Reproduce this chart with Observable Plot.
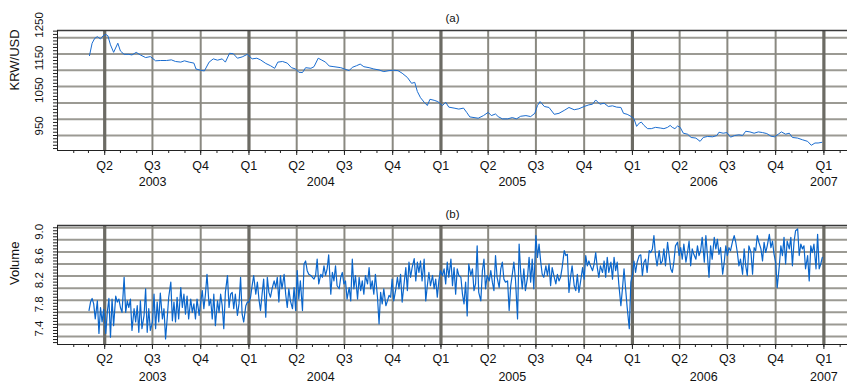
<!DOCTYPE html>
<html><head><meta charset="utf-8">
<script src="https://cdn.jsdelivr.net/npm/d3@7"></script>
<script src="https://cdn.jsdelivr.net/npm/@observablehq/plot@0.6"></script>
<style>
html,body{margin:0;padding:0;background:#fff;}
#chart svg{display:block;}
</style>
</head><body><div id="chart"></div>
<script>
// ---- Data (day offsets from 2003-01-01) ----
const baseDate = "2003-01-01";

const rateDay = [61,66,71,76,82,87,92,96,101,107,115,120,127,136,142,150,158,168,177,187,196,208,217,225,235,242,251,260,264,273,280,289,297,305,314,320,328,335,343,352,362,371,380,387,397,406,414,420,429,438,446,454,460,467,473,483,489,497,503,511,518,527,540,
547,556,562,570,577,584,594,603,613,622,632,641,649,657,667,675,681,686,692,699,705,710,718,725,734,740,746,756,765,774,780,786,794,802,812,821,827,835,840,848,858,867,875,883,893,902,910,915,920,928,937,947,956,966,975,985,994,1004,1013,1020,1026,1034,
1042,1050,1058,1066,1074,1079,1086,1094,1099,1104,1109,1113,1118,1125,1132,1140,1149,1156,1163,1168,1172,1177,1182,1187,1193,1201,1208,1217,1225,1231,1239,1249,1257,1261,1269,1276,1283,1291,1299,1306,1312,1320,1328,1336,1344,1352,1360,1367,1374,1380,1388,1395,1401,1411,1420,1430,1437,1444,1450,1457];
const rateValue = [1195,1233,1248,1253,1246,1256,1260,1256,1228,1205,1233,1209,1199,1199,1197,1205,1197,1189,1192,1179,1180,1180,1182,1177,1175,1179,1175,1172,1154,1150,1148,1175,1185,1181,1185,1175,1202,1201,1187,1191,1199,1185,1187,1182,1171,1164,1156,1175,1177,1172,1158,1154,1144,1143,1158,1156,1161,1187,1182,1175,1163,1161,1158,
1154,1149,1159,1164,1169,1161,1158,1154,1151,1146,1149,1150,1149,1141,1128,1110,1113,1085,1066,1052,1042,1061,1058,1054,1042,1052,1037,1034,1031,1034,1021,1007,1005,1003,1011,1021,1011,1016,1008,1001,1001,1005,1001,1009,1011,1008,1018,1042,1054,1039,1036,1015,1018,1027,1036,1029,1032,1039,1044,1046,1059,1046,
1049,1039,1041,1037,1036,1018,1015,1008,1001,978,988,991,981,971,971,975,973,971,975,981,975,971,979,975,957,954,944,942,932,944,947,946,950,960,957,959,945,950,952,950,963,961,957,961,959,956,948,946,954,961,954,957,944,942,937,932,920,927,927,929];

const volumeDay = [60,63,66,69,72,76,79,82,85,88,92,95,98,101,104,107,111,114,117,120,123,127,130,133,136,139,142,146,149,152,155,158,161,165,168,171,174,177,181,184,187,190,193,196,200,203,206,209,212,216,219,222,225,228,231,235,238,241,244,247,250,254,257,260,263,266,270,273,276,279,282,285,289,292,295,298,301,305,308,311,314,317,320,324,327,330,333,336,339,343,346,349,352,355,359,362,365,368,371,374,378,381,384,387,390,393,397,400,403,
406,409,413,416,419,422,425,428,432,435,438,441,444,448,451,454,457,460,463,467,470,473,476,479,483,486,489,492,495,498,502,505,508,511,514,517,521,524,527,530,533,537,540,543,546,549,552,556,559,562,565,568,572,575,578,581,584,587,591,594,597,600,603,606,610,613,616,619,622,626,629,632,635,638,641,645,648,651,654,657,661,664,667,670,673,676,680,683,686,689,692,695,699,702,705,708,711,715,718,721,724,727,730,734,737,740,743,746,750,753,756,759,762,765,
769,772,775,778,781,784,788,791,794,797,800,803,807,810,813,816,819,823,826,829,832,835,838,842,845,848,851,854,858,861,864,867,870,873,877,880,883,886,889,892,896,899,902,905,908,912,915,918,921,924,927,931,934,937,940,943,947,950,953,956,959,962,966,969,972,975,978,981,985,988,991,994,997,1001,1004,1007,1010,1013,1016,1020,1023,1026,1029,1032,1035,1039,1042,1045,1048,1051,1055,1058,1061,1064,1067,1070,1074,1077,1080,1083,1086,1090,1093,1096,1099,1102,1105,1109,1112,1115,1118,1121,1124,1128,
1131,1134,1137,1140,1143,1147,1150,1153,1156,1159,1163,1166,1169,1172,1175,1178,1182,1185,1188,1191,1194,1198,1201,1204,1207,1210,1213,1217,1220,1223,1226,1229,1233,1236,1239,1242,1245,1248,1252,1255,1258,1261,1264,1268,1271,1274,1277,1280,1283,1287,1290,1293,1296,1299,1302,1306,1309,1312,1315,1318,1322,1325,1328,1331,1334,1337,1341,1344,1347,1350,1353,1357,1360,1363,1366,1369,1372,1376,1379,1382,1385,1388,1391,1395,1398,1401,1404,1407,1411,1414,1417,1420,1423,1426,1430,1433,1436,1439,1442,1446,1449,1452,1455,1458];
const volumeValue = [7.83,7.97,8.03,7.94,7.69,7.99,7.45,7.88,7.64,7.85,7.45,7.81,8.03,7.39,8.02,7.58,8.07,7.97,8.02,7.88,7.80,8.38,7.80,7.99,7.88,8.02,7.50,7.86,7.64,7.91,7.47,7.99,7.53,7.75,8.19,7.47,7.86,7.50,7.64,8.10,7.53,7.97,7.64,8.12,7.69,7.86,7.36,7.69,8.05,8.30,7.66,7.97,7.64,8.05,7.69,8.21,7.88,8.10,7.77,8.07,7.69,8.02,7.80,7.94,7.69,8.02,7.75,7.97,8.16,7.86,8.10,8.43,7.91,8.02,7.69,8.10,7.58,7.99,7.80,8.10,7.91,7.53,8.13,8.41,7.88,8.10,8.13,7.86,8.10,7.75,7.94,8.38,7.77,7.64,7.91,7.97,7.97,8.05,8.24,8.41,8.10,8.30,8.02,7.83,8.10,8.35,7.72,8.38,8.13,
8.05,8.19,8.32,8.21,8.38,7.97,8.41,8.19,8.43,8.10,7.88,8.19,7.99,7.86,8.21,7.83,8.49,8.02,8.32,7.83,8.60,8.65,8.49,8.43,8.41,8.38,8.35,8.41,8.68,8.27,8.43,8.38,8.57,8.41,8.52,8.75,8.10,8.46,8.32,8.57,8.24,8.19,8.38,8.46,8.27,8.32,8.02,8.21,7.99,8.68,8.19,8.41,8.02,8.38,8.16,8.32,8.10,8.41,8.27,8.54,8.19,8.32,8.10,8.43,8.05,7.61,8.13,7.94,8.19,7.91,7.99,8.08,8.05,8.35,7.99,8.19,8.38,8.19,8.43,7.97,8.30,8.54,8.16,8.63,8.38,8.54,8.69,8.32,8.63,8.46,8.65,8.32,8.68,7.99,8.24,8.46,8.24,8.41,8.19,8.35,8.05,8.32,8.49,8.41,8.52,8.27,8.63,8.38,8.68,8.24,8.54,8.10,8.52,8.41,
8.38,8.10,7.94,8.30,7.74,8.60,8.41,8.52,8.16,8.27,8.90,8.13,7.99,8.49,8.68,8.19,8.41,8.32,8.49,8.30,8.16,8.74,8.38,8.21,8.52,8.63,8.35,8.30,8.32,7.83,8.24,8.43,8.63,8.35,7.69,8.93,8.46,8.19,8.52,8.16,8.38,8.71,8.30,8.68,8.19,9.07,8.71,8.93,8.65,8.43,8.38,8.57,8.41,8.60,8.24,8.54,8.38,8.27,8.43,8.32,8.38,8.54,8.82,8.74,8.76,8.13,8.38,8.57,8.24,8.16,8.43,8.13,8.30,8.54,8.35,8.74,8.57,8.65,8.57,8.49,8.60,8.79,8.54,8.38,8.57,8.46,8.65,8.38,8.71,8.46,8.63,8.35,8.71,8.49,8.63,8.27,7.91,8.19,8.52,8.19,7.88,7.53,8.30,8.41,8.65,8.46,8.63,8.74,8.75,8.41,8.63,8.68,8.46,8.82,
8.79,8.85,9.07,8.74,8.57,8.82,8.60,8.65,8.85,8.57,8.96,8.74,8.52,8.46,8.63,8.90,8.96,8.74,8.87,8.68,8.93,8.63,8.79,8.98,8.57,8.85,8.76,8.68,8.90,8.74,8.82,9.04,8.63,9.07,8.74,8.38,8.90,8.68,9.04,8.85,9.01,8.76,8.87,8.43,8.63,8.90,8.74,8.87,8.82,8.98,9.07,8.96,8.79,8.57,8.68,8.43,8.85,8.57,8.41,8.90,8.79,8.43,8.87,8.82,9.07,8.96,8.85,8.65,8.96,8.79,8.90,9.09,8.87,8.98,8.76,8.63,8.21,8.57,8.90,8.74,9.04,8.60,8.98,8.85,9.04,8.57,8.96,9.15,9.18,8.74,8.93,8.85,8.90,8.52,8.74,8.32,8.90,8.79,8.93,8.52,9.09,8.52,8.60,8.71];

// ---- Axis / tick definitions ----
const quarterTicks = ["2003-04-01","2003-07-01","2003-10-01","2004-01-01","2004-04-01","2004-07-01","2004-10-01","2005-01-01","2005-04-01","2005-07-01","2005-10-01","2006-01-01","2006-04-01","2006-07-01","2006-10-01","2007-01-01"];
const quarterLabels = ["Q2","Q3","Q4","Q1","Q2","Q3","Q4","Q1","Q2","Q3","Q4","Q1","Q2","Q3","Q4","Q1"];
const thickLines = ["2003-04-01","2004-01-01","2005-01-01","2006-01-01","2007-01-01"];
const yearLabels = ["2003","2004","2005","2006","2007"];
const xStart = "2003-01-01", xEnd = "2007-02-15";

const rateGrid = [950,1000,1050,1100,1150,1200,1250];
const rateTickLabels = [950,1050,1150,1250];
const rateDomain = [904,1272];
const volumeGrid = [7.4,7.6,7.8,8.0,8.2,8.4,8.6,8.8,9.0,9.2];
const volumeTickLabels = [7.4,7.8,8.2,8.6,9.0];
const volumeDomain = [7.268,9.237];

// ---- Build ----
const base = new Date(baseDate);
const toDate = s => new Date(s);
const rateData = rateDay.map((d,i) => ({date: d3.utcDay.offset(base, d), value: rateValue[i]}));
const volumeData = volumeDay.map((d,i) => ({date: d3.utcDay.offset(base, d), value: volumeValue[i]}));
const qDates = quarterTicks.map(toDate);
const yearPos = yearLabels.map(y => new Date(d3.mean(qDates.filter(d => d.getUTCFullYear() === +y), d => +d)));
const xDomain = [toDate(xStart), toDate(xEnd)];
const months = d3.utcMonth.range(d3.utcDay.offset(xDomain[0],1), xDomain[1]);
const font = "'Liberation Sans', Arial, Helvetica, sans-serif";
const blank = () => "";

function panel(o) {
  return Plot.plot({
    width: 847, height: o.height,
    marginLeft: 57, marginRight: 0, marginTop: o.marginTop, marginBottom: o.marginBottom,
    style: {fontFamily: font, fontSize: "12px", background: "white", overflow: "visible", color: "#111"},
    x: {type: "utc", domain: xDomain, axis: null},
    y: {domain: o.yDomain, axis: null},
    marks: [
      Plot.ruleY(o.grid, {stroke: "#9b9a93", strokeWidth: 2}),
      Plot.ruleX(qDates, {stroke: "#8a8981", strokeWidth: 2}),
      Plot.ruleX(thickLines.map(toDate), {stroke: "#6c6b64", strokeWidth: 3.2}),
      Plot.lineY(o.data, {x: "date", y: "value", stroke: o.color, strokeWidth: o.lw}),
      Plot.ruleY([o.yDomain[1]], {stroke: "#3a3a3a", strokeWidth: 1.6}),
      Plot.ruleY([o.yDomain[0]], {stroke: "#222", strokeWidth: 1}),
      Plot.ruleX([xDomain[0]], {stroke: "#222", strokeWidth: 1}),
      Plot.axisY(o.minor, {tickSize: 4, tickFormat: blank, label: null, stroke: "#222"}),
      Plot.axisX(months, {tickSize: 3, tickFormat: blank, label: null, stroke: "#222"}),
      Plot.axisX(qDates, {tickSize: 5, tickFormat: blank, label: null, stroke: "#222"}),
      Plot.text(o.labels, {y: d => d, text: o.fmt, frameAnchor: "left", dx: -18, rotate: -90, fontSize: 11.5, fill: "#111"}),
      Plot.text(qDates, {x: d => d, text: (d, i) => quarterLabels[i], frameAnchor: "bottom", dy: o.qdy, fontSize: 12.5, fill: "#111"}),
      Plot.text(yearPos, {x: d => d, text: (d, i) => yearLabels[i], frameAnchor: "bottom", dy: o.ydy, fontSize: 12.5, fill: "#111"}),
      Plot.text([o.title], {frameAnchor: "top", dy: o.tdy, fontSize: 11.5, fill: "#111"}),
      Plot.text([o.yTitle], {frameAnchor: "left", dx: -43, rotate: -90, fontSize: 13, fill: "#111"})
    ]
  });
}

const chart = document.getElementById("chart");
chart.append(panel({
  height: 193, marginTop: 30, marginBottom: 43,
  yDomain: rateDomain, grid: rateGrid, minor: d3.range(910, 1271, 10),
  labels: rateTickLabels, fmt: d => String(d),
  data: rateData, color: "#1b6dd0", lw: 1,
  qdy: 19, ydy: 35, tdy: -17, title: "(a)", yTitle: "KRW/USD"
}));
chart.append(panel({
  height: 193, marginTop: 32, marginBottom: 42,
  yDomain: volumeDomain, grid: volumeGrid, minor: d3.range(7.3, 9.24, 0.05),
  labels: volumeTickLabels, fmt: d => d.toFixed(1),
  data: volumeData, color: "#0a66cc", lw: 1.2,
  qdy: 18.5, ydy: 36, tdy: -16, title: "(b)", yTitle: "Volume"
}));
</script>
</body></html>
